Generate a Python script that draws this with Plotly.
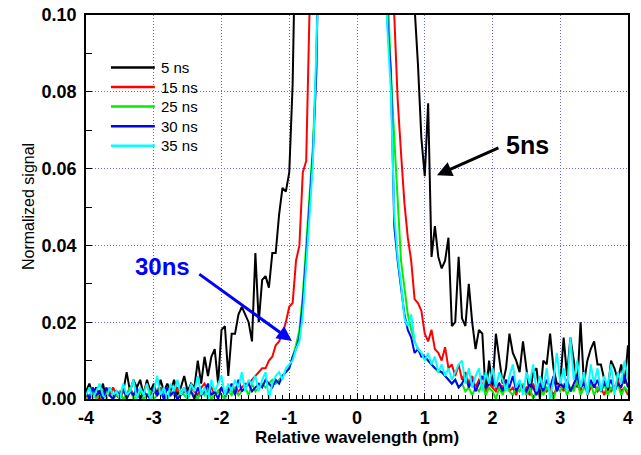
import plotly.graph_objects as go

# Relative wavelength grid (pm), step 0.05 from -4 to 4
wavelength = [round(-4 + 0.05 * i, 2) for i in range(161)]

sig_5ns = [
    0.002, 0.004, 0.001, 0.003, 0.001, 0.004, 0.000, 0.003, 0.001, 0.002,
    0.001, 0.002, 0.007, 0.002, 0.005, 0.003, 0.005, 0.001, 0.005, 0.002,
    0.004, 0.001, 0.005, 0.002, 0.004, 0.002, 0.005, 0.001, 0.003, 0.006,
    0.002, 0.004, 0.003, 0.010, 0.004, 0.011, 0.006, 0.011, 0.013, 0.004,
    0.018, 0.019, 0.006, 0.017, 0.017, 0.022, 0.024, 0.022, 0.020, 0.015,
    0.038, 0.020, 0.031, 0.032, 0.029, 0.038, 0.038, 0.048, 0.055, 0.054,
    0.059, 0.082, 0.110, 0.140, 0.180, 0.220, 0.270, 0.320, 0.380, 0.440,
    0.50, 0.56, 0.62, 0.68, 0.74, 0.80, 0.86, 0.91, 0.95, 0.98,
    1.00, 0.97, 0.92, 0.85, 0.77, 0.68, 0.59, 0.50, 0.42, 0.35,
    0.30, 0.25, 0.21, 0.18, 0.155, 0.135, 0.118, 0.102, 0.087, 0.068,
    0.058, 0.077, 0.037, 0.045, 0.037, 0.034, 0.036, 0.042, 0.019, 0.020,
    0.037, 0.021, 0.019, 0.030, 0.020, 0.013, 0.018, 0.017, 0.001, 0.010,
    0.003, 0.017, 0.010, 0.004, 0.008, 0.017, 0.012, 0.010, 0.007, 0.015,
    0.008, 0.001, 0.007, 0.008, 0.000, 0.010, 0.009, 0.017, 0.008, 0.004,
    0.004, 0.016, 0.006, 0.016, 0.010, 0.003, 0.020, 0.004, 0.010, 0.013,
    0.015, 0.009, 0.009, 0.005, 0.002, 0.010, 0.008, 0.005, 0.009, 0.004,
    0.014,
]

sig_15ns = [
    0.001, 0.000, 0.002, 0.001, 0.000, 0.002, 0.001, 0.001, 0.003, 0.001,
    0.000, 0.002, 0.001, 0.003, 0.001, 0.002, 0.000, 0.002, 0.004, 0.001,
    0.002, 0.001, 0.003, 0.001, 0.000, 0.002, 0.001, 0.003, 0.001, 0.002,
    0.001, 0.003, 0.002, 0.001, 0.003, 0.004, 0.002, 0.003, 0.001, 0.002,
    0.003, 0.001, 0.003, 0.002, 0.003, 0.002, 0.003, 0.004, 0.004, 0.005,
    0.006, 0.007, 0.008, 0.008, 0.010, 0.011, 0.014, 0.015, 0.017, 0.020,
    0.024, 0.025, 0.036, 0.040, 0.059, 0.062, 0.085, 0.110, 0.150, 0.200,
    0.26, 0.33, 0.41, 0.50, 0.60, 0.70, 0.80, 0.88, 0.94, 0.98,
    1.00, 0.96, 0.88, 0.76, 0.62, 0.48, 0.36, 0.26, 0.19, 0.14,
    0.130, 0.100, 0.078, 0.064, 0.051, 0.042, 0.036, 0.026, 0.025, 0.023,
    0.017, 0.015, 0.018, 0.013, 0.012, 0.010, 0.0135, 0.008, 0.009, 0.006,
    0.009, 0.005, 0.007, 0.004, 0.006, 0.003, 0.005, 0.004, 0.002, 0.004,
    0.003, 0.002, 0.004, 0.003, 0.005, 0.002, 0.003, 0.001, 0.004, 0.002,
    0.003, 0.001, 0.004, 0.002, 0.003, 0.004, 0.002, 0.003, 0.001, 0.003,
    0.004, 0.002, 0.005, 0.002, 0.003, 0.004, 0.002, 0.006, 0.001, 0.003,
    0.004, 0.002, 0.003, 0.001, 0.004, 0.002, 0.003, 0.005, 0.002, 0.003,
    0.001,
]

sig_25ns = [
    0.000, 0.001, 0.002, 0.000, 0.001, 0.000, 0.002, 0.001, 0.000, 0.001,
    0.002, 0.000, 0.001, 0.003, 0.000, 0.001, 0.002, 0.000, 0.001, 0.002,
    0.000, 0.001, 0.002, 0.001, 0.000, 0.002, 0.001, 0.000, 0.002, 0.001,
    0.000, 0.002, 0.001, 0.000, 0.002, 0.001, 0.003, 0.000, 0.001, 0.002,
    0.001, 0.000, 0.002, 0.001, 0.003, 0.001, 0.002, 0.003, 0.001, 0.004,
    0.002, 0.003, 0.004, 0.003, 0.004, 0.005, 0.004, 0.005, 0.006, 0.007,
    0.008, 0.011, 0.014, 0.018, 0.027, 0.040, 0.053, 0.066, 0.088, 0.115,
    0.16, 0.22, 0.30, 0.40, 0.52, 0.64, 0.76, 0.86, 0.94, 0.99,
    1.00, 0.95, 0.84, 0.68, 0.50, 0.36, 0.25, 0.18, 0.13, 0.106,
    0.085, 0.068, 0.052, 0.036, 0.029, 0.022, 0.018, 0.015, 0.013, 0.012,
    0.011, 0.010, 0.009, 0.008, 0.007, 0.007, 0.006, 0.005, 0.004, 0.005,
    0.003, 0.004, 0.002, 0.003, 0.001, 0.003, 0.002, 0.004, 0.001, 0.003,
    0.002, 0.000, 0.003, 0.001, 0.004, 0.002, 0.001, 0.003, 0.002, 0.004,
    0.001, 0.003, 0.000, 0.002, 0.004, 0.001, 0.003, 0.002, 0.000, 0.003,
    0.002, 0.004, 0.001, 0.003, 0.002, 0.005, 0.001, 0.003, 0.002, 0.004,
    0.001, 0.003, 0.002, 0.004, 0.001, 0.003, 0.002, 0.004, 0.001, 0.003,
    0.002,
]

sig_30ns = [
    0.002, 0.000, 0.003, 0.001, 0.002, 0.000, 0.003, 0.001, 0.000, 0.002,
    0.001, 0.003, 0.000, 0.002, 0.001, 0.003, 0.000, 0.002, 0.001, 0.000,
    0.003, 0.001, 0.002, 0.000, 0.003, 0.001, 0.002, 0.000, 0.001, 0.003,
    0.001, 0.002, 0.000, 0.003, 0.001, 0.002, 0.004, 0.001, 0.002, 0.000,
    0.003, 0.001, 0.002, 0.004, 0.001, 0.005, 0.002, 0.003, 0.004, 0.002,
    0.003, 0.004, 0.003, 0.005, 0.004, 0.003, 0.005, 0.004, 0.006, 0.007,
    0.008, 0.011, 0.013, 0.016, 0.025, 0.037, 0.050, 0.064, 0.085, 0.110,
    0.15, 0.21, 0.29, 0.39, 0.51, 0.63, 0.75, 0.85, 0.93, 0.98,
    1.00, 0.96, 0.85, 0.69, 0.51, 0.36, 0.25, 0.17, 0.125, 0.098,
    0.085, 0.045, 0.036, 0.029, 0.022, 0.018, 0.016, 0.012, 0.013, 0.011,
    0.011, 0.010, 0.009, 0.008, 0.0075, 0.007, 0.006, 0.005, 0.004, 0.005,
    0.003, 0.004, 0.006, 0.003, 0.005, 0.002, 0.004, 0.006, 0.003, 0.004,
    0.005, 0.003, 0.004, 0.002, 0.005, 0.003, 0.006, 0.002, 0.004, 0.003,
    0.002, 0.004, 0.003, 0.001, 0.004, 0.002, 0.005, 0.003, 0.006, 0.002,
    0.004, 0.003, 0.005, 0.002, 0.004, 0.006, 0.003, 0.004, 0.002, 0.005,
    0.003, 0.005, 0.002, 0.004, 0.003, 0.005, 0.002, 0.004, 0.003, 0.006,
    0.003,
]

sig_35ns = [
    0.001, 0.003, 0.000, 0.002, 0.004, 0.001, 0.000, 0.003, 0.001, 0.002,
    0.000, 0.004, 0.001, 0.002, 0.005, 0.000, 0.003, 0.001, 0.004, 0.000,
    0.002, 0.006, 0.001, 0.003, 0.000, 0.004, 0.002, 0.005, 0.001, 0.003,
    0.000, 0.004, 0.002, 0.006, 0.001, 0.003, 0.000, 0.005, 0.002, 0.004,
    0.006, 0.001, 0.004, 0.002, 0.005, 0.003, 0.007, 0.002, 0.005, 0.004,
    0.006, 0.002, 0.005, 0.007, 0.000, 0.004, 0.006, 0.007, 0.005, 0.008,
    0.009, 0.010, 0.013, 0.015, 0.022, 0.034, 0.048, 0.062, 0.083, 0.108,
    0.15, 0.21, 0.29, 0.39, 0.51, 0.63, 0.75, 0.85, 0.93, 0.98,
    1.00, 0.96, 0.85, 0.69, 0.51, 0.36, 0.25, 0.17, 0.122, 0.096,
    0.080, 0.048, 0.037, 0.030, 0.021, 0.019, 0.022, 0.015, 0.013, 0.012,
    0.010, 0.012, 0.009, 0.011, 0.007, 0.009, 0.006, 0.008, 0.005, 0.007,
    0.009, 0.010, 0.004, 0.008, 0.003, 0.006, 0.008, 0.002, 0.007, 0.004,
    0.008, 0.003, 0.007, 0.005, 0.002, 0.006, 0.009, 0.003, 0.005, 0.001,
    0.007, 0.004, 0.009, 0.002, 0.006, 0.003, 0.008, 0.000, 0.005, 0.012,
    0.004, 0.008, 0.002, 0.016, 0.005, 0.010, 0.003, 0.007, 0.001, 0.009,
    0.004, 0.008, 0.002, 0.006, 0.003, 0.009, 0.001, 0.007, 0.004, 0.010,
    0.005,
]

series_names = ["5 ns", "15 ns", "25 ns", "30 ns", "35 ns"]
series_values = [sig_5ns, sig_15ns, sig_25ns, sig_30ns, sig_35ns]
series_colors = ["#000000", "#ff0000", "#00ee00", "#0000ff", "#00ffff"]

x_tick_vals = [-4, -3, -2, -1, 0, 1, 2, 3, 4]
x_tick_text = ["-4", "-3", "-2", "-1", "0", "1", "2", "3", "4"]

FONT = "Liberation Sans, Arial, sans-serif"

fig = go.Figure()
for name, vals, col in zip(series_names, series_values, series_colors):
    fig.add_trace(go.Scatter(
        x=wavelength, y=vals, mode="lines", name=name,
        line=dict(color=col, width=2), showlegend=False,
    ))

# manual legend (longer line samples like the original)
leg_top = 0.863
leg_step = 0.0508
shapes = []
annotations = []
for i, (name, col) in enumerate(zip(series_names, series_colors)):
    yy = leg_top - i * leg_step
    shapes.append(dict(type="line", xref="paper", yref="paper",
                       x0=0.046, x1=0.127, y0=yy, y1=yy,
                       line=dict(color=col, width=2.5)))
    annotations.append(dict(xref="paper", yref="paper", x=0.134, y=yy,
                            text=name, showarrow=False, xanchor="left",
                            yanchor="middle",
                            font=dict(family=FONT, size=15, color="black")))

# arrows and labels
annotations.append(dict(x=1.18, y=0.0583, ax=2.11, ay=0.0656, xref="x", yref="y",
                        axref="x", ayref="y", text="", showarrow=True,
                        arrowhead=2, arrowsize=1, arrowwidth=3, arrowcolor="black"))
annotations.append(dict(x=2.51, y=0.0661, xref="x", yref="y", text="5ns",
                        showarrow=False, font=dict(family=FONT, size=25,
                        color="black", weight="bold")))
annotations.append(dict(x=-0.96, y=0.0151, ax=-2.35, ay=0.0328, xref="x", yref="y",
                        axref="x", ayref="y", text="", showarrow=True,
                        arrowhead=2, arrowsize=1, arrowwidth=3, arrowcolor="#0000ff"))
annotations.append(dict(x=-2.864, y=0.0346, xref="x", yref="y", text="30ns",
                        showarrow=False, font=dict(family=FONT, size=24,
                        color="#0000ff", weight="bold")))

# axis titles
annotations.append(dict(xref="paper", yref="paper", x=0.5, y=-0.099,
                        text="Relative wavelength (pm)", showarrow=False,
                        xanchor="center", yanchor="middle",
                        font=dict(family=FONT, size=17, weight="bold", color="black")))
annotations.append(dict(xref="paper", yref="paper", x=-0.107, y=0.5,
                        text="Normalized signal", showarrow=False, textangle=-90,
                        xanchor="center", yanchor="middle",
                        font=dict(family=FONT, size=16, color="black")))

GRID = "#6464ff"
fig.update_layout(
    width=641, height=455,
    margin=dict(l=86, r=13, t=15, b=56, autoexpand=False),
    paper_bgcolor="white", plot_bgcolor="white",
    font=dict(family=FONT, color="black"),
    shapes=shapes, annotations=annotations,
    showlegend=False,
)
fig.update_xaxes(
    automargin=False,
    range=[-4, 4], tickvals=x_tick_vals, ticktext=x_tick_text,
    ticks="inside", ticklen=6, tickcolor="black", tickwidth=1,
    minor=dict(ticks="inside", dtick=0.1, ticklen=4, tickcolor="black", showgrid=False),
    showgrid=True, gridcolor=GRID, griddash="1px,2px", gridwidth=1,
    showline=True, linecolor="black", linewidth=1.5, mirror=True,
    zeroline=False, ticklabelstandoff=2, ticklabeloverflow="allow",
    tickfont=dict(family=FONT, size=18, weight="bold"),
)
fig.update_yaxes(
    automargin=False,
    range=[0, 0.1], dtick=0.02, tickformat=".2f",
    ticks="inside", ticklen=6, tickcolor="black", tickwidth=1,
    minor=dict(ticks="inside", dtick=0.01, ticklen=6, tickcolor="black", showgrid=False),
    showgrid=True, gridcolor=GRID, griddash="1px,2px", gridwidth=1,
    showline=True, linecolor="black", linewidth=1.5, mirror=True,
    zeroline=False, ticklabelstandoff=4, ticklabeloverflow="allow",
    tickfont=dict(family=FONT, size=18, weight="bold"),
)

# remove the default page margin so the figure starts at the window corner
fig.write_html("out.html",
               config={"displayModeBar": False},
               post_script="document.body.style.margin='0';document.body.style.overflow='hidden';")
